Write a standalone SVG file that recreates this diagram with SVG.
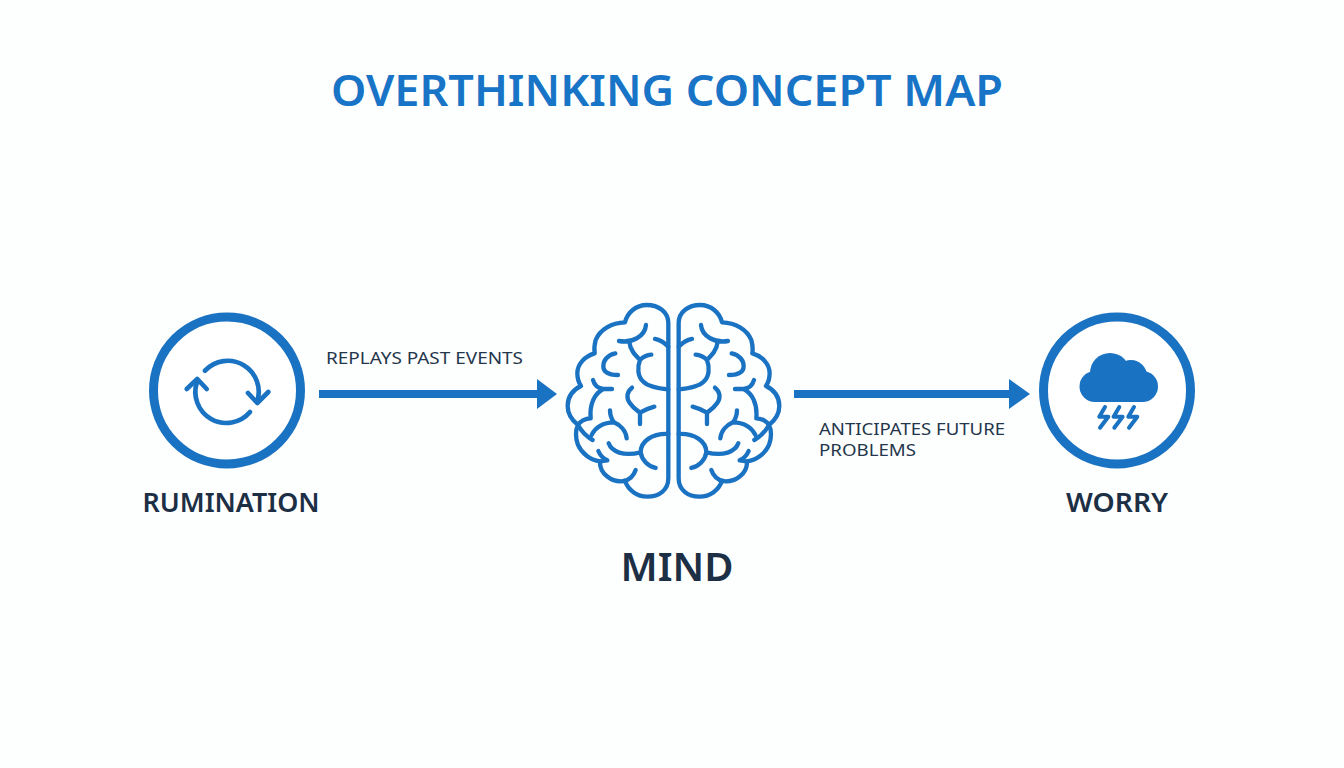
<svg xmlns="http://www.w3.org/2000/svg" xmlns:xlink="http://www.w3.org/1999/xlink" width="1344" height="768" viewBox="0 0 1344 768">
<style>
text{font-family:"Noto Sans","Open Sans","Liberation Sans",sans-serif}
.title{font-size:44px;font-weight:600;fill:#1874c6}
.name{font-weight:600;fill:#1c2f45}
.lab{font-size:17px;fill:#24364b}
.ring{fill:#fff;stroke:#1a72c2;stroke-width:9}
.ic{fill:none;stroke:#1a72c2;stroke-width:4.700;stroke-linecap:round;stroke-linejoin:round}
.br{fill:none;stroke:#1a72c2;stroke-width:13;stroke-linecap:round;stroke-linejoin:round}
.conn{stroke:#1a72c2;stroke-width:8;fill:none}
.head{fill:#1a72c2}
</style>
<defs>
<g id="hemi">
<path class="br" d="M355 100C355 65 325 45 290 45C258 45 232 68 225 97C185 98 150 118 137 150C133 165 132 178 134 190C105 198 82 222 82 250C82 265 86 278 93 288C68 300 53 322 53 348C53 370 65 390 84 405C76 420 76 445 84 465C95 490 120 510 150 514C148 550 185 580 225 573C235 600 260 620 292 620C328 620 355 600 355 565Z"/>
<path class="br" d="M207 153C245 160 285 140 288 105M315 147C330 150 345 160 355 170M238 155C240 180 255 195 270 210C262 230 262 260 280 275C295 290 325 295 355 298M270 210C280 200 292 195 304 194"/>
<path class="br" d="M196 190C172 195 160 212 160 228C160 245 175 255 204 255"/>
<path class="br" d="M129 270C133 285 145 295 160 297H186M160 297C135 310 118 340 122 385M122 385C105 385 90 395 84 405C95 425 110 440 128 450"/>
<path class="br" d="M246 293C230 305 228 325 240 340C250 355 262 362 270 368C280 362 295 355 313 350M270 368L270 402"/>
<path class="br" d="M180 361C180 375 185 388 192 397C160 397 135 412 125 435M192 397C210 405 228 422 230 445"/>
<path class="br" d="M176 460C185 485 220 500 272 487C272 455 305 430 355 432M272 487C275 510 295 530 317 534"/>
<path class="br" d="M145 483C150 495 158 505 172 511M150 514L172 511"/>
<path class="br" d="M257 540C250 560 235 570 222 573"/>
</g>
</defs>
<rect width="1344" height="768" fill="#fdfefe"/>
<text class="title" x="667" y="106" text-anchor="middle" textLength="672" lengthAdjust="spacingAndGlyphs">OVERTHINKING CONCEPT MAP</text>

<g id="connectors">
<path class="conn" d="M319 394H540"/>
<path class="head" d="M537 379L557 394L537 409Z"/>
<path class="conn" d="M794 394H1012"/>
<path class="head" d="M1009 379L1030 394L1009 409Z"/>
<text class="lab" x="326" y="364" textLength="197" lengthAdjust="spacingAndGlyphs">REPLAYS PAST EVENTS</text>
<text class="lab" x="819" y="434.500" textLength="186" lengthAdjust="spacingAndGlyphs">ANTICIPATES FUTURE</text>
<text class="lab" x="819" y="456" textLength="97" lengthAdjust="spacingAndGlyphs">PROBLEMS</text>
</g>

<g id="rumination">
<circle class="ring" cx="227" cy="390.500" r="73.500"/>
<path class="ic" d="M205 370.700A31 31 0 0 1 257 402"/>
<path class="ic" d="M197 382A31 31 0 0 0 250 412"/>
<path class="ic" d="M186.700 389L197.300 379L206.700 389"/>
<path class="ic" d="M248 393L257.300 403L268.300 392"/>
<text class="name" x="231" y="512" font-size="27" text-anchor="middle" textLength="177" lengthAdjust="spacingAndGlyphs">RUMINATION</text>
</g>

<g id="mind">
<g transform="translate(550 290) scale(.3333)">
<use href="#hemi" xlink:href="#hemi"/>
<use href="#hemi" xlink:href="#hemi" transform="matrix(-1 0 0 1 741 0)"/>
</g>
<text class="name" x="677" y="581" font-size="40" text-anchor="middle" textLength="113" lengthAdjust="spacingAndGlyphs">MIND</text>
</g>

<g id="worry">
<circle class="ring" cx="1117" cy="390.500" r="73.500"/>
<g class="head">
<circle cx="1110" cy="373" r="20"/>
<circle cx="1131" cy="376" r="16"/>
<circle cx="1095" cy="386.500" r="15.500"/>
<circle cx="1142.500" cy="386.500" r="15.500"/>
<rect x="1095" y="375" width="47" height="27"/>
</g>
<path class="ic" style="stroke-width:4" d="M1105 407L1099.300 416.700H1108.300L1100 427.700M1119.300 407L1113.600 416.700H1122.600L1114.300 427.700M1134 407L1128.300 416.700H1137.300L1129 427.700"/>
<text class="name" x="1117" y="512" font-size="27" text-anchor="middle" textLength="102" lengthAdjust="spacingAndGlyphs">WORRY</text>
</g>
</svg>
